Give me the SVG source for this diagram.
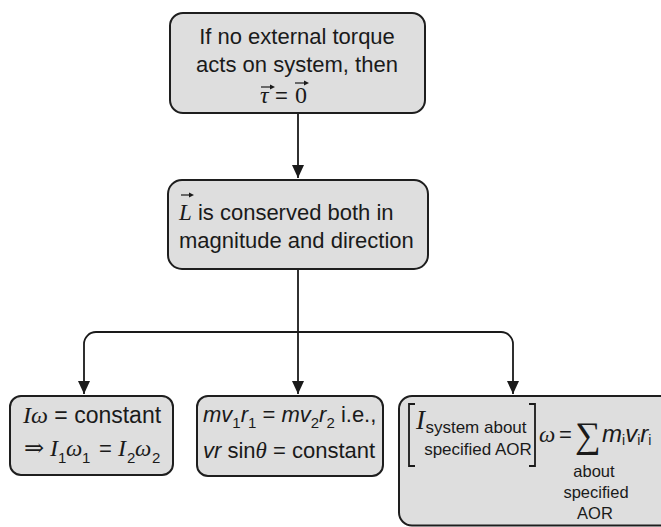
<svg xmlns="http://www.w3.org/2000/svg" width="661" height="527" viewBox="0 0 661 527">
  <defs>
    <marker id="arrow" markerUnits="userSpaceOnUse" markerWidth="14" markerHeight="12" refX="13" refY="6" orient="auto">
      <path d="M0,0 L13,6 L0,12 z" fill="#1a1a1a"/>
    </marker>
    <style>
      .box { fill: #dedede; stroke: #1e1e1e; stroke-width: 2; }
      .sans { font-family: "Liberation Sans", Arial, sans-serif; fill: #1a1a1a; }
      .serif { font-family: "Liberation Serif", "DejaVu Serif", serif; fill: #1a1a1a; }
      .it { font-style: italic; }
      .conn { fill: none; stroke: #1a1a1a; stroke-width: 1.8; }
      .vec { fill: none; stroke: #1a1a1a; stroke-width: 1.2; }
      .vechead { fill: #1a1a1a; }
    </style>
  </defs>

  <rect width="661" height="527" fill="#ffffff"/>

  <!-- connectors -->
  <g id="connectors">
    <path class="conn" d="M298,113 V178" marker-end="url(#arrow)"/>
    <path class="conn" d="M298,269 V394" marker-end="url(#arrow)"/>
    <path class="conn" d="M298,332 H96 A12,12 0 0 0 84,344 V394" marker-end="url(#arrow)"/>
    <path class="conn" d="M298,332 H501 A12,12 0 0 1 513,344 V394" marker-end="url(#arrow)"/>
  </g>

  <!-- no external torque -->
  <g id="node-torque">
    <rect class="box" x="170" y="13" width="255" height="100" rx="13"/>
    <text class="sans" x="297" y="44" font-size="22" text-anchor="middle">If no external torque</text>
    <text class="sans" x="297" y="72" font-size="22" text-anchor="middle">acts on system, then</text>
    <text class="serif it" x="260" y="103" font-size="24">τ</text>
    <text class="sans" x="275" y="103" font-size="22">=</text>
    <text class="serif" x="295" y="103" font-size="24">0</text>
    <path class="vec" d="M261,87 H273"/>
    <path class="vechead" d="M275,87 L270,84.5 L270,89.5 z"/>
    <path class="vec" d="M295,83 H307"/>
    <path class="vechead" d="M309,83 L304,80.5 L304,85.5 z"/>
  </g>

  <!-- angular momentum conserved -->
  <g id="node-conserved">
    <rect class="box" x="168" y="180" width="260" height="89" rx="14"/>
    <text class="sans" x="179" y="220" font-size="22"><tspan class="serif it" font-size="23">L</tspan> is conserved both in</text>
    <text class="sans" x="179" y="248" font-size="22">magnitude and direction</text>
    <path class="vec" d="M181,195 H191"/>
    <path class="vechead" d="M194,195 L189,192.5 L189,197.5 z"/>
  </g>

  <!-- rigid body form -->
  <g id="node-rigid">
    <rect class="box" x="10" y="396" width="163" height="79" rx="11"/>
    <text class="sans" x="23" y="423" font-size="23"><tspan class="serif it" font-size="24">Iω</tspan> = constant</text>
    <text class="serif" x="24" y="456" font-size="24">⇒</text>
    <text class="serif it" x="50" y="456" font-size="24">I</text>
    <text class="sans" x="58" y="463" font-size="15">1</text>
    <text class="serif it" x="66" y="456" font-size="23">ω</text>
    <text class="sans" x="82" y="463" font-size="15">1</text>
    <text class="sans" x="99" y="456" font-size="22">=</text>
    <text class="serif it" x="118" y="456" font-size="24">I</text>
    <text class="sans" x="127" y="463" font-size="15">2</text>
    <text class="serif it" x="135" y="456" font-size="23">ω</text>
    <text class="sans" x="152" y="463" font-size="15">2</text>
  </g>

  <!-- point particle form -->
  <g id="node-particle">
    <rect class="box" x="197" y="396" width="186" height="80" rx="11"/>
    <text class="sans" x="203" y="422" font-size="22"><tspan class="it">mv</tspan><tspan font-size="15" dy="6">1</tspan><tspan class="it" dy="-6">r</tspan><tspan font-size="15" dy="6">1</tspan><tspan dy="-6"> = </tspan><tspan class="it">mv</tspan><tspan font-size="15" dy="6">2</tspan><tspan class="it" dy="-6">r</tspan><tspan font-size="15" dy="6">2</tspan><tspan dy="-6"> i.e.,</tspan></text>
    <text class="sans" x="203" y="458" font-size="22"><tspan class="it">vr</tspan> sin<tspan class="serif it" font-size="23">θ</tspan> = constant</text>
  </g>

  <!-- system of particles form -->
  <g id="node-system">
    <rect class="box" x="399" y="396" width="300" height="129.5" rx="13"/>
    <path class="conn" d="M415,404 H409 V466 H415" stroke-width="1.5"/>
    <path class="conn" d="M529,404 H535 V466 H529" stroke-width="1.5"/>
    <text class="serif it" x="416" y="429" font-size="27">I</text>
    <text class="sans" x="476" y="433" font-size="17" text-anchor="middle">system about</text>
    <text class="sans" x="478" y="455" font-size="17" text-anchor="middle">specified AOR</text>
    <text class="serif it" x="539" y="442" font-size="23">ω</text>
    <text class="sans" x="559" y="442" font-size="22">=</text>
    <text class="serif" x="575" y="447" font-size="36">∑</text>
    <text class="sans" x="602" y="442" font-size="24"><tspan class="it">m</tspan><tspan font-size="14" dy="3">i</tspan><tspan class="it" dy="-3">v</tspan><tspan font-size="14" dy="3">i</tspan><tspan class="it" dy="-3">r</tspan><tspan font-size="14" dy="3">i</tspan></text>
    <text class="sans" x="594" y="477" font-size="16.5" text-anchor="middle">about</text>
    <text class="sans" x="596" y="498" font-size="16.5" text-anchor="middle">specified</text>
    <text class="sans" x="595" y="519" font-size="16.5" text-anchor="middle">AOR</text>
  </g>
</svg>
